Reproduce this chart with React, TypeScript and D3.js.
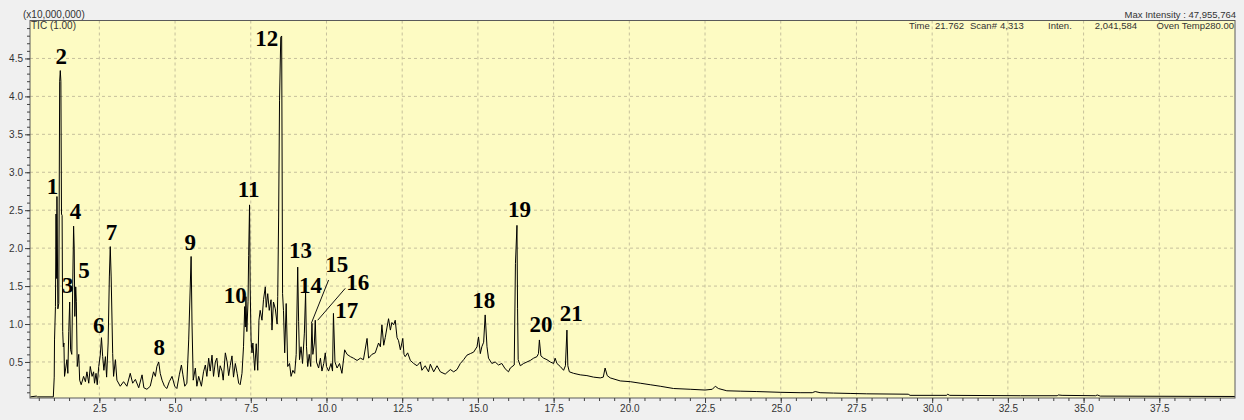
import * as d3 from "d3";
import React, { useEffect, useRef } from "react";

const width = 1244;
const height = 420;
const plot = { left: 30, right: 1235, top: 20.5, bottom: 398 };

// TIC trace: [retention time (min), intensity (x10,000,000)]
const traceSolvent = [
  [0.22, 0.04], [0.42, 0.05], [0.46, 0.04], [0.98, 0.04], [1.01, 0.3], [1.02, 0.79], [1.05, 1.23],
  [1.07, 2.45], [1.09, 1.6], [1.1, 2.68], [1.13, 1.2], [1.16, 1.27], [1.19, 4.2], [1.21, 4.34],
  [1.23, 4.2], [1.25, 2.45], [1.27, 2.43], [1.29, 0.9], [1.31, 0.7], [1.33, 0.75], [1.35, 0.31],
  [1.39, 0.42], [1.43, 0.53], [1.46, 0.35], [1.49, 0.9], [1.52, 1.29], [1.55, 0.66], [1.59, 0.6],
  [1.62, 1.5], [1.65, 2.29], [1.67, 2.0], [1.69, 1.1], [1.72, 1.49], [1.74, 1.3], [1.77, 0.44],
  [1.82, 0.6], [1.85, 0.26], [1.9, 0.2], [1.98, 0.31], [2.04, 0.24], [2.09, 0.37], [2.15, 0.22],
  [2.2, 0.44], [2.26, 0.31], [2.31, 0.37], [2.34, 0.22], [2.39, 0.35], [2.43, 0.2], [2.48, 0.44],
  [2.53, 0.59], [2.57, 0.82], [2.61, 0.57], [2.65, 0.39], [2.7, 0.57], [2.74, 0.3], [2.79, 0.75],
  [2.83, 1.62], [2.86, 2.02], [2.89, 1.62], [2.94, 0.61], [2.97, 0.31], [3.03, 0.53], [3.08, 0.26],
  [3.19, 0.18],
];

const traceLow = [
  [3.3, 0.24], [3.41, 0.18], [3.52, 0.35], [3.6, 0.22], [3.69, 0.27], [3.8, 0.16], [3.91, 0.33],
  [3.97, 0.16], [4.07, 0.14], [4.18, 0.18], [4.29, 0.37], [4.35, 0.31], [4.4, 0.44], [4.46, 0.5],
  [4.51, 0.35], [4.57, 0.26], [4.65, 0.18], [4.73, 0.15], [4.81, 0.24], [4.9, 0.31], [4.99, 0.18],
  [5.06, 0.15], [5.14, 0.33], [5.21, 0.46], [5.26, 0.33], [5.32, 0.18], [5.39, 0.22], [5.45, 0.79],
  [5.53, 1.89], [5.56, 1.0], [5.6, 0.26], [5.67, 0.42], [5.72, 0.18], [5.78, 0.31], [5.87, 0.18],
  [5.94, 0.37], [6.0, 0.46], [6.05, 0.31], [6.11, 0.55], [6.16, 0.38], [6.22, 0.59], [6.27, 0.31],
  [6.33, 0.5], [6.38, 0.55], [6.44, 0.3], [6.49, 0.45], [6.55, 0.38], [6.59, 0.26], [6.66, 0.62],
  [6.72, 0.5], [6.77, 0.32], [6.82, 0.45], [6.88, 0.58], [6.93, 0.3], [6.99, 0.48], [7.05, 0.35],
  [7.1, 0.22], [7.15, 0.2], [7.21, 0.35],
];

const traceCluster = [
  [7.26, 0.7], [7.3, 1.23], [7.32, 0.96], [7.34, 1.36], [7.37, 0.9], [7.41, 1.3], [7.43, 1.9],
  [7.46, 2.57], [7.48, 1.5], [7.51, 0.79], [7.54, 0.62], [7.57, 0.75], [7.63, 0.39], [7.68, 0.74],
  [7.73, 0.39], [7.77, 1.05], [7.81, 1.18], [7.87, 1.05], [7.92, 1.32], [7.98, 1.49], [8.01, 1.22],
  [8.06, 1.4], [8.11, 1.18], [8.17, 1.32], [8.2, 0.92], [8.25, 1.29], [8.31, 1.2], [8.37, 1.0],
  [8.39, 1.36], [8.42, 2.41], [8.45, 3.95], [8.49, 4.78], [8.52, 4.796], [8.55, 1.4], [8.58, 1.18],
  [8.62, 0.62], [8.67, 1.27], [8.72, 0.44], [8.78, 0.48], [8.83, 0.31], [8.89, 0.39], [8.95, 0.35],
  [9.0, 0.6], [9.05, 1.75], [9.08, 1.03], [9.11, 0.53], [9.16, 0.7], [9.21, 0.48], [9.27, 0.88],
  [9.31, 1.42], [9.34, 0.7], [9.38, 0.44], [9.43, 0.6], [9.48, 0.44], [9.52, 1.01], [9.55, 0.6],
  [9.6, 0.75], [9.63, 1.05], [9.67, 0.5], [9.74, 0.42], [9.8, 0.55], [9.85, 0.38], [9.91, 0.48],
  [9.96, 0.62], [10.0, 0.44], [10.07, 0.38], [10.15, 0.48], [10.2, 0.38], [10.23, 1.14], [10.28, 0.5],
  [10.35, 0.42], [10.43, 0.48], [10.51, 0.35], [10.6, 0.66], [10.68, 0.6],
];

const traceHump = [
  [10.79, 0.57], [10.89, 0.55], [11.01, 0.52], [11.12, 0.55], [11.22, 0.53], [11.34, 0.81], [11.39, 0.55],
  [11.5, 0.6], [11.61, 0.62], [11.72, 0.75], [11.78, 0.7], [11.83, 0.99], [11.89, 0.72], [11.94, 0.82],
  [12.0, 0.96], [12.05, 1.07], [12.11, 0.92], [12.16, 1.02], [12.22, 0.99], [12.27, 1.05], [12.33, 0.82],
  [12.38, 0.78], [12.44, 0.66], [12.49, 0.75], [12.52, 0.81], [12.56, 0.6], [12.6, 0.57], [12.68, 0.62],
  [12.77, 0.52], [12.88, 0.48], [12.99, 0.45], [13.1, 0.5], [13.15, 0.39], [13.26, 0.45], [13.37, 0.37],
  [13.43, 0.47], [13.54, 0.37], [13.65, 0.45], [13.76, 0.37], [13.92, 0.34], [14.09, 0.4], [14.2, 0.37],
  [14.31, 0.4], [14.42, 0.48], [14.53, 0.53], [14.64, 0.59], [14.75, 0.61], [14.86, 0.63], [14.97, 0.7],
  [15.02, 0.83], [15.08, 0.61], [15.13, 0.7], [15.19, 0.76], [15.24, 1.12], [15.3, 0.7], [15.35, 0.55],
  [15.46, 0.48], [15.57, 0.5], [15.68, 0.46], [15.79, 0.48], [15.9, 0.41], [16.01, 0.37], [16.07, 0.42],
  [16.2, 0.46],
];

const traceLate = [
  [16.24, 1.8], [16.29, 2.3], [16.31, 1.2], [16.33, 0.53], [16.4, 0.45], [16.51, 0.48], [16.62, 0.5],
  [16.73, 0.52], [16.84, 0.55], [16.95, 0.57], [17.0, 0.61], [17.03, 0.79], [17.08, 0.58], [17.17, 0.55],
  [17.28, 0.53], [17.39, 0.5], [17.5, 0.48], [17.55, 0.55], [17.61, 0.48], [17.72, 0.44], [17.83, 0.39],
  [17.89, 0.45], [17.94, 0.92], [17.97, 0.45], [18.02, 0.37], [18.16, 0.35], [18.38, 0.33], [18.6, 0.32],
  [18.82, 0.3], [19.04, 0.29], [19.14, 0.3], [19.2, 0.42], [19.27, 0.32], [19.37, 0.29],
];

const traceTail = [
  [19.7, 0.25], [20.03, 0.24], [20.36, 0.22], [20.69, 0.2], [21.02, 0.18], [21.46, 0.15], [22.01, 0.14],
  [22.5, 0.13], [22.74, 0.14], [22.84, 0.18], [22.94, 0.15], [23.22, 0.12], [23.66, 0.115], [24.21, 0.11],
  [24.98, 0.1], [25.64, 0.095], [26.04, 0.095], [26.14, 0.11], [26.3, 0.095], [26.74, 0.09], [27.29, 0.085],
  [27.84, 0.08], [29.21, 0.075], [29.27, 0.06], [30.48, 0.06], [30.51, 0.075], [30.58, 0.06], [32.91, 0.055],
  [34.13, 0.055], [34.16, 0.065], [34.29, 0.06], [35.4, 0.055], [35.45, 0.065], [35.55, 0.05], [40.0, 0.045],
];

// peak numbers, anchored at the baseline of each label (time, intensity)
const peakNumbers = ["1", "2", "3", "4", "5", "6", "7", "8", "9", "10", "11", "12", "13", "14", "15", "16", "17", "18", "19", "20", "21"];
const peakLabelTimes = [0.95, 1.24, 1.46, 1.71, 1.99, 2.48, 2.9, 4.48, 5.5, 6.99, 7.43, 8.03, 9.14, 9.47, 10.34, 11.03, 10.67, 15.19, 16.37, 17.08, 18.08];
const peakLabelLevels = [2.72, 4.43, 1.41, 2.39, 1.61, 0.88, 2.11, 0.59, 1.97, 1.28, 2.67, 4.67, 1.87, 1.41, 1.68, 1.45, 1.08, 1.21, 2.41, 0.89, 1.04];
// leader lines for 15 and 16: [t1, v1, t2, v2]
const leaderLines = [
  [10.07, 1.58, 9.5, 1.01],
  [10.62, 1.47, 9.71, 1.05],
];

const xTicks = [2.5, 5.0, 7.5, 10.0, 12.5, 15.0, 17.5, 20.0, 22.5, 25.0, 27.5, 30.0, 32.5, 35.0, 37.5];
const yTicks = [0.5, 1.0, 1.5, 2.0, 2.5, 3.0, 3.5, 4.0, 4.5];

const scanInfo = [
  { text: "Time", x: 909, anchor: "start" },
  { text: "21.762", x: 935, anchor: "start" },
  { text: "Scan#", x: 970, anchor: "start" },
  { text: "4,313", x: 1000, anchor: "start" },
  { text: "Inten.", x: 1048, anchor: "start" },
  { text: "2,041,584", x: 1137, anchor: "end" },
  { text: "Oven Temp280.00", x: 1234, anchor: "end" },
];

const sans = "'Liberation Sans', Arial, sans-serif";
const serif = "'Liberation Serif', 'Times New Roman', serif";

export default function App() {
  const xAxisRef = useRef<SVGGElement | null>(null);
  const yAxisRef = useRef<SVGGElement | null>(null);

  const x = d3.scaleLinear().domain([0.21, 40.0]).range([plot.left, plot.right]);
  const y = d3.scaleLinear().domain([0.025, 5.0]).range([plot.bottom, plot.top]);

  const trace = [...traceSolvent, ...traceLow, ...traceCluster, ...traceHump, ...traceLate, ...traceTail];
  const line = d3
    .line<number[]>()
    .x((d) => x(d[0]))
    .y((d) => y(d[1]));

  useEffect(() => {
    const gx = d3.select(xAxisRef.current);
    gx.selectAll("*").remove();
    gx.append("g").call(
      d3.axisBottom(x).tickValues(d3.range(0.5, 40, 0.5)).tickSize(3).tickFormat(() => "")
    );
    gx.append("g").call(
      d3.axisBottom(x).tickValues(xTicks).tickSize(5).tickPadding(2).tickFormat(d3.format(".1f"))
    );
    gx.selectAll(".domain").remove();

    const gy = d3.select(yAxisRef.current);
    gy.selectAll("*").remove();
    gy.append("g").call(
      d3.axisLeft(y).tickValues(d3.range(0.1, 5.0, 0.1)).tickSize(3).tickFormat(() => "")
    );
    gy.append("g").call(
      d3.axisLeft(y).tickValues(yTicks).tickSize(5).tickPadding(2).tickFormat(d3.format(".1f"))
    );
    gy.selectAll(".domain").remove();

    for (const g of [gx, gy]) {
      g.selectAll("line").attr("stroke", "#404040");
      g.selectAll("text").attr("font-family", sans).attr("font-size", 10).attr("fill", "#333");
    }
  }, []);

  return (
    <svg
      width={width}
      height={height}
      style={{ position: "absolute", left: 0, top: 0, display: "block" }}
    >
      <rect width={width} height={height} fill="#f0f0f0" />
      <rect
        x={plot.left}
        y={plot.top}
        width={plot.right - plot.left}
        height={plot.bottom - plot.top}
        fill="#fdfbc3"
      />
      <g stroke="#c6c09c" strokeDasharray="3,3" strokeWidth={1}>
        {xTicks.map((t) => (
          <line key={"gx" + t} x1={x(t)} x2={x(t)} y1={plot.top} y2={plot.bottom} />
        ))}
        {yTicks.map((v) => (
          <line key={"gy" + v} x1={plot.left} x2={plot.right} y1={y(v)} y2={y(v)} />
        ))}
      </g>

      <path d={line(trace) || ""} fill="none" stroke="#000" strokeWidth={1} strokeLinejoin="round" />

      <rect
        x={plot.left}
        y={plot.top}
        width={plot.right - plot.left}
        height={plot.bottom - plot.top}
        fill="none"
        stroke="#5a5a5a"
      />
      <g ref={xAxisRef} transform={`translate(0,${plot.bottom})`} />
      <g ref={yAxisRef} transform={`translate(${plot.left},0)`} />

      <g fontFamily={sans} fontSize={10} fill="#333">
        <text x={23} y={17.5}>(x10,000,000)</text>
        <text x={31} y={29}>TIC (1.00)</text>
      </g>
      <g fontFamily={sans} fontSize={9.5} fill="#333">
        <text x={1236} y={17.5} textAnchor="end">Max Intensity : 47,955,764</text>
        {scanInfo.map((s) => (
          <text key={s.text} x={s.x} y={29} textAnchor={s.anchor}>
            {s.text}
          </text>
        ))}
      </g>

      <g stroke="#111" strokeWidth={1}>
        {leaderLines.map((l, i) => (
          <line key={i} x1={x(l[0])} y1={y(l[1])} x2={x(l[2])} y2={y(l[3])} />
        ))}
      </g>
      <g fontFamily={serif} fontWeight="bold" fontSize={23} fill="#000" textAnchor="middle">
        {peakNumbers.map((n, i) => (
          <text key={n} x={x(peakLabelTimes[i])} y={y(peakLabelLevels[i])}>
            {n}
          </text>
        ))}
      </g>
    </svg>
  );
}
